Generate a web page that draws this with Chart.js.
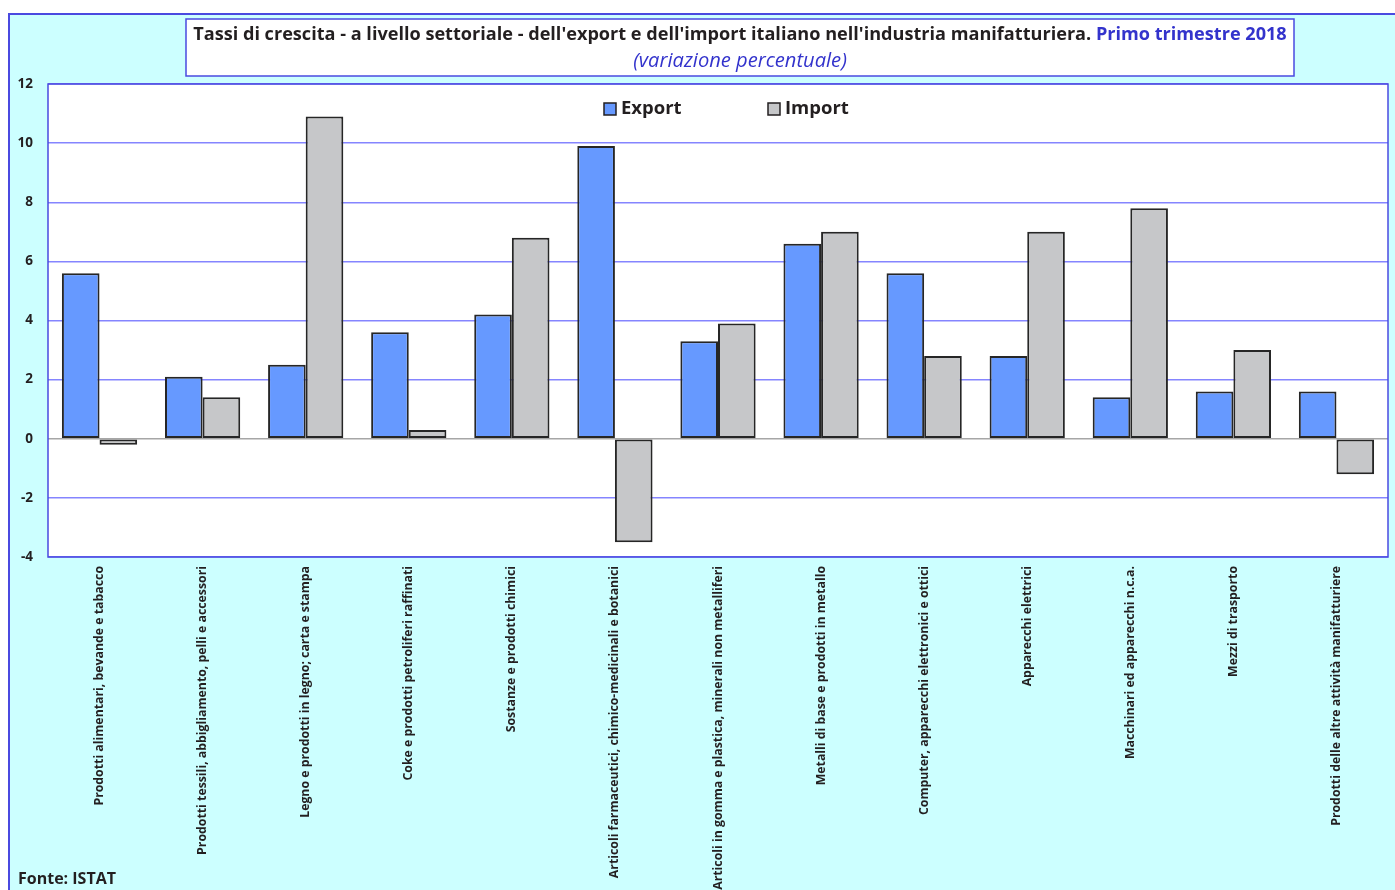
<!DOCTYPE html>
<html>
<head>
<meta charset="utf-8">
<script src="https://cdn.jsdelivr.net/npm/chart.js@4.4.1/dist/chart.umd.min.js"></script>
<style>
html,body{margin:0;padding:0;background:#fff;}
#wrap{position:relative;width:1395px;height:890px;}
</style>
</head>
<body>
<div id="wrap"><canvas id="c" width="1395" height="890"></canvas></div>
<script>
const categories = [
  "Prodotti alimentari, bevande e tabacco",
  "Prodotti tessili, abbigliamento, pelli e accessori",
  "Legno e prodotti in legno; carta e stampa",
  "Coke e prodotti petroliferi raffinati",
  "Sostanze e prodotti chimici",
  "Articoli farmaceutici, chimico-medicinali e botanici",
  "Articoli in gomma e plastica, minerali non metalliferi",
  "Metalli di base e prodotti in metallo",
  "Computer, apparecchi elettronici e ottici",
  "Apparecchi elettrici",
  "Macchinari ed apparecchi n.c.a.",
  "Mezzi di trasporto",
  "Prodotti delle altre attività manifatturiere"
];
const exportVals = [5.6, 2.1, 2.5, 3.6, 4.2, 9.9, 3.3, 6.6, 5.6, 2.8, 1.4, 1.6, 1.6];
const importVals = [-0.2, 1.4, 10.9, 0.3, 6.8, -3.5, 3.9, 7.0, 2.8, 7.0, 7.8, 3.0, -1.2];
const seriesNames = ["Export", "Import"];
const titleMain = "Tassi di crescita - a livello settoriale - dell'export e dell'import italiano nell'industria manifatturiera. ";
const titleHighlight = "Primo trimestre 2018";
const subtitle = "(variazione percentuale)";
const sourceText = "Fonte: ISTAT";

const FONT = "'Open Sans', sans-serif";

const decor = {
  id: 'decor',
  beforeDraw(chart) {
    const ctx = chart.ctx;
    const ca = chart.chartArea;
    ctx.save();
    ctx.fillStyle = '#ccffff';
    ctx.fillRect(9, 14, 1400, 900);
    ctx.strokeStyle = '#4a4ae0';
    ctx.lineWidth = 2;
    ctx.strokeRect(9, 14, 1400, 900);
    ctx.fillStyle = '#ffffff';
    ctx.fillRect(ca.left, ca.top, ca.right - ca.left, ca.bottom - ca.top);
    ctx.restore();
  },
  afterDraw(chart) {
    const ctx = chart.ctx;
    const ca = chart.chartArea;
    ctx.save();
    ctx.strokeStyle = '#4a4ae0';
    ctx.lineWidth = 1.5;
    ctx.strokeRect(ca.left, ca.top, ca.right - ca.left, ca.bottom - ca.top);

    const bx = 186, by = 19, bw = 1108, bh = 57;
    ctx.fillStyle = '#ffffff';
    ctx.fillRect(bx, by, bw, bh);
    ctx.strokeStyle = '#4a4ae0';
    ctx.lineWidth = 1.5;
    ctx.strokeRect(bx, by, bw, bh);

    let fs = 18;
    const target = 1094;
    ctx.font = 'bold ' + fs + 'px ' + FONT;
    let w = ctx.measureText(titleMain + titleHighlight).width;
    fs = fs * target / w;
    ctx.font = 'bold ' + fs + 'px ' + FONT;
    const w1 = ctx.measureText(titleMain).width;
    const w2 = ctx.measureText(titleHighlight).width;
    const cx = bx + bw / 2;
    let x0 = cx - (w1 + w2) / 2;
    ctx.textBaseline = 'middle';
    ctx.textAlign = 'left';
    ctx.fillStyle = '#231f20';
    ctx.fillText(titleMain, x0, 35);
    ctx.fillStyle = '#3333cc';
    ctx.fillText(titleHighlight, x0 + w1, 35);
    let sfs = 17;
    ctx.font = 'italic ' + sfs + 'px ' + FONT;
    sfs = sfs * 214 / ctx.measureText(subtitle).width;
    ctx.font = 'italic ' + sfs + 'px ' + FONT;
    ctx.textAlign = 'center';
    ctx.fillText(subtitle, cx, 61);

    const ds = chart.data.datasets;
    const legendX = [604, 768];
    ctx.font = 'bold 18.5px ' + FONT;
    ctx.textAlign = 'left';
    ds.forEach((d, i) => {
      const lx = legendX[i];
      ctx.fillStyle = d.backgroundColor;
      ctx.fillRect(lx, 103, 12, 12);
      ctx.strokeStyle = '#231f20';
      ctx.lineWidth = 1.5;
      ctx.strokeRect(lx, 103, 12, 12);
      ctx.fillStyle = '#231f20';
      ctx.fillText(d.label, lx + 17, 109);
    });

    ctx.font = 'bold 16px ' + FONT;
    ctx.fillStyle = '#231f20';
    ctx.textAlign = 'left';
    ctx.fillText(sourceText, 18, 879);
    ctx.restore();
  }
};

new Chart(document.getElementById('c'), {
  type: 'bar',
  data: {
    labels: categories,
    datasets: [
      { label: seriesNames[0], data: exportVals, backgroundColor: '#6699ff', borderColor: '#262626', borderWidth: 2, borderSkipped: false },
      { label: seriesNames[1], data: importVals, backgroundColor: '#c6c7c9', borderColor: '#262626', borderWidth: 2, borderSkipped: false }
    ]
  },
  options: {
    responsive: false,
    animation: false,
    devicePixelRatio: 1,
    layout: { padding: { left: 0, top: 84, right: 7, bottom: 0 } },
    plugins: { legend: { display: false }, tooltip: { enabled: false } },
    datasets: { bar: { categoryPercentage: 0.73, barPercentage: 1.0 } },
    scales: {
      x: {
        grid: { display: false, drawTicks: false },
        border: { display: false },
        ticks: {
          minRotation: 90, maxRotation: 90, autoSkip: false, padding: 9,
          color: '#231f20', font: { family: FONT, weight: 'bold', size: 12.3 }
        },
        afterFit(s) { s.height = 333; }
      },
      y: {
        min: -4, max: 12,
        ticks: { stepSize: 2, padding: 15, color: '#231f20', font: { family: FONT, weight: 'bold', size: 13.5 } },
        grid: {
          drawTicks: false,
          lineWidth: 1.5,
          color: ctx => ctx.tick && ctx.tick.value === 0 ? '#a6a6a6' : '#8585ff'
        },
        border: { display: false },
        afterFit(s) { s.width = 48; }
      }
    }
  },
  plugins: [decor]
});
</script>
</body>
</html>
